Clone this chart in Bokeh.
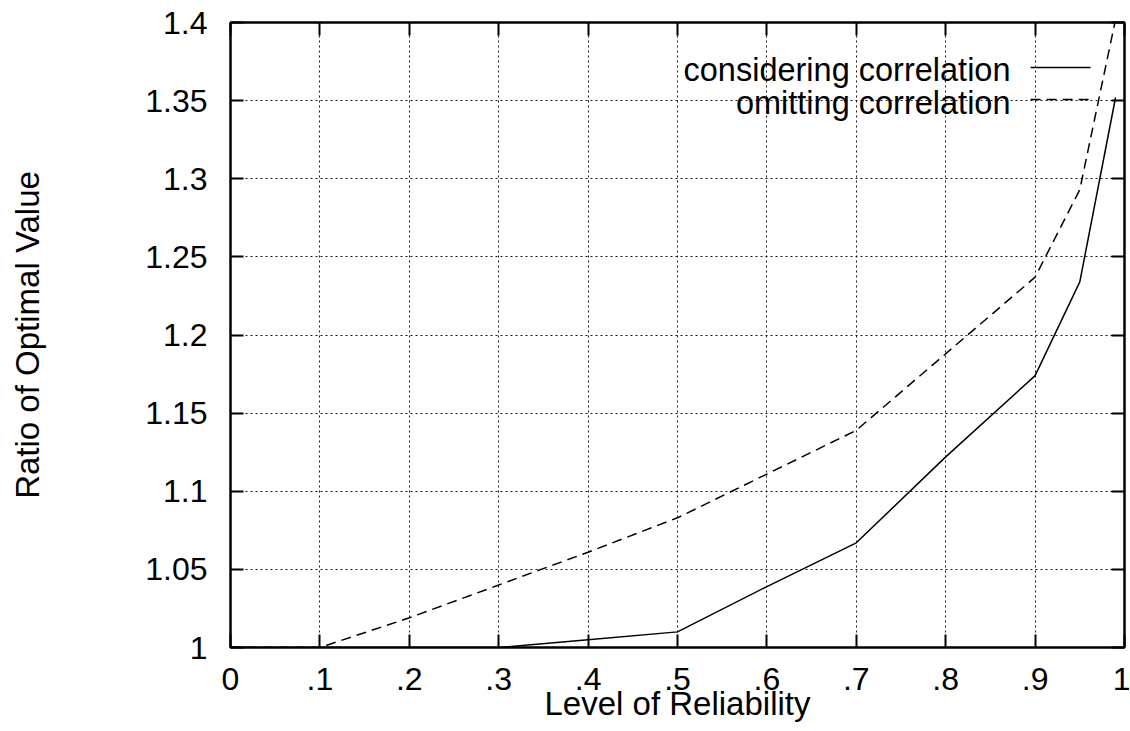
from bokeh.plotting import figure
from bokeh.models import LinearAxis, FixedTicker, Range1d, Label
from bokeh.embed import file_html
from bokeh.resources import INLINE

# ---- data ----
reliability = [0.0, 0.1, 0.2, 0.3, 0.4, 0.5, 0.6, 0.7, 0.8, 0.9, 0.95, 0.99]
considering = [1.0, 1.0, 1.0, 1.0, 1.005, 1.01, 1.039, 1.067, 1.122, 1.174, 1.234, 1.352]
omitting = [1.0, 1.0, 1.019, 1.04, 1.061, 1.083, 1.111, 1.139, 1.188, 1.237, 1.293, 1.402]

x_ticks = [0.0, 0.1, 0.2, 0.3, 0.4, 0.5, 0.6, 0.7, 0.8, 0.9, 1.0]
x_tick_labels = ["0", ".1", ".2", ".3", ".4", ".5", ".6", ".7", ".8", ".9", "1"]
y_ticks = [1.0, 1.05, 1.1, 1.15, 1.2, 1.25, 1.3, 1.35, 1.4]
y_tick_labels = ["1", "1.05", "1.1", "1.15", "1.2", "1.25", "1.3", "1.35", "1.4"]
legend_labels = ["considering correlation", "omitting correlation"]
x_title = "Level of Reliability"
y_title = "Ratio of Optimal Value"

FONT = "Liberation Sans"
W, H = 1130, 731

p = figure(width=W, height=H, output_backend="svg", toolbar_location=None,
           x_range=Range1d(0, 1), y_range=Range1d(1.0, 1.4),
           min_border_left=230, min_border_top=22, min_border_right=6,
           min_border_bottom=84)
p.background_fill_color = "white"
p.border_fill_color = "white"
p.outline_line_color = "black"
p.outline_line_width = 2


def style_axis(ax, ticks, labels, show_labels):
    ax.ticker = FixedTicker(ticks=ticks)
    ax.major_tick_in = 13
    ax.major_tick_out = 0
    ax.minor_tick_in = 0
    ax.minor_tick_out = 0
    ax.axis_line_color = "black"
    ax.axis_line_width = 2
    ax.major_tick_line_color = "black"
    ax.major_tick_line_width = 2
    if show_labels:
        ax.major_label_overrides = dict(zip(ticks, labels))
        ax.major_label_text_font = FONT
        ax.major_label_text_font_size = "32px"
        ax.major_label_text_color = "black"
        ax.axis_label_text_font = FONT
        ax.axis_label_text_font_size = "33px"
        ax.axis_label_text_font_style = "normal"
        ax.axis_label_text_color = "black"
    else:
        ax.major_label_overrides = {t: "" for t in ticks}
        ax.major_label_standoff = 0


xa = p.xaxis[0]
ya = p.yaxis[0]
style_axis(xa, x_ticks, x_tick_labels, True)
style_axis(ya, y_ticks, y_tick_labels, True)
xa.axis_label = x_title
ya.axis_label = y_title
xa.major_label_standoff = 20
xa.axis_label_standoff = -8
ya.major_label_standoff = 23
ya.axis_label_standoff = 96

top = LinearAxis()
right = LinearAxis()
style_axis(top, x_ticks, x_tick_labels, False)
style_axis(right, y_ticks, y_tick_labels, False)
p.add_layout(top, "above")
p.add_layout(right, "right")

for g in (p.xgrid[0], p.ygrid[0]):
    g.grid_line_color = "black"
    g.grid_line_width = 1
    g.grid_line_dash = "2 3"
    g.grid_line_alpha = 0.9
p.xgrid[0].ticker = FixedTicker(ticks=x_ticks)
p.ygrid[0].ticker = FixedTicker(ticks=y_ticks)

p.line(reliability, considering, line_color="black", line_width=1.5)
p.line(reliability, omitting, line_color="black", line_width=1.5, line_dash="10 6")

# legend (gnuplot style: text on the left, sample on the right)
key_x0, key_x1, text_x = 0.895, 0.962, 0.8725
key_y = [1.3712, 1.3507]
text_y = [1.3693, 1.3488]
dashes = ["solid", "10 6"]
for lbl, ky, ty, dash in zip(legend_labels, key_y, text_y, dashes):
    p.segment(x0=[key_x0], x1=[key_x1], y0=[ky], y1=[ky], line_color="black",
              line_width=1.5, line_dash=dash)
    p.add_layout(Label(x=text_x, y=ty, text=lbl, text_align="right",
                       text_baseline="alphabetic", text_font=FONT,
                       text_font_size="32.5px", text_color="black"))

open("out.html", "w").write(file_html(p, INLINE))
